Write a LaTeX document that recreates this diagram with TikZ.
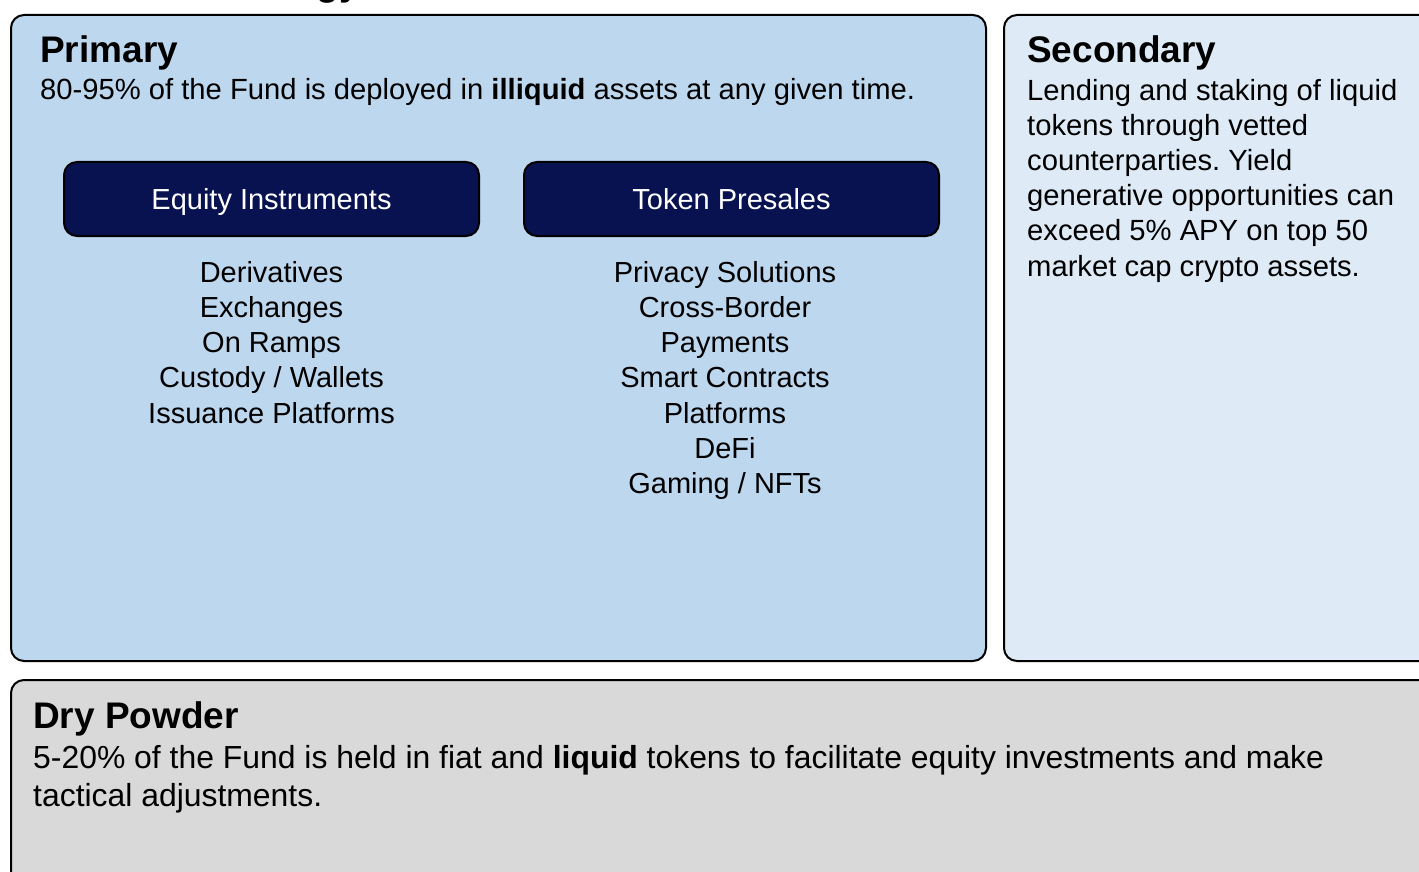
\documentclass[tikz,border=0pt]{standalone}
\usepackage{fontspec}
\setmainfont{Liberation Sans}
\usetikzlibrary{positioning}
\frenchspacing

\definecolor{primaryfill}{HTML}{BDD7EE}
\definecolor{secondaryfill}{HTML}{DEEBF7}
\definecolor{powderfill}{HTML}{D9D9D9}
\definecolor{navyfill}{HTML}{081250}

\tikzset{
  panel/.style={draw=black,line width=2pt,rounded corners=13pt,inner sep=0pt,anchor=north west},
  headtext/.style={font=\fontsize{37}{44}\selectfont\bfseries,inner sep=0pt,anchor=base west},
  bodytext/.style={font=\fontsize{29.2}{35.2}\selectfont,inner sep=0pt,anchor=base west,align=left},
  catbox/.style={draw=black,line width=2pt,fill=navyfill,rounded corners=13pt,text=white,
    minimum width=415pt,minimum height=74pt,text height=21pt,text depth=0pt,
    font=\fontsize{29}{35}\selectfont},
  listtext/.style={font=\fontsize{29}{35.2}\selectfont,inner sep=0pt,anchor=base,align=center}
}

\begin{document}
\begin{tikzpicture}[x=1pt,y=-1pt]
\useasboundingbox (0,0) rectangle (1419,872);
\clip (0,0) rectangle (1419,872);

% title, cut off at the top
\node[headtext,anchor=base east] (title) at (360,-4) {Strategy};

% panels
\node[panel,fill=primaryfill,minimum width=975pt,minimum height=646pt] (primary) at (10,14) {};
\node[panel,fill=secondaryfill,minimum width=460pt,minimum height=646pt] (secondary) at (1003,14) {};
\node[panel,fill=powderfill,minimum width=1460pt,minimum height=260pt] (powder) at (10,679) {};

% primary
\node[headtext] (primaryhead) at (40,63) {Primary};
\node[bodytext] (primarybody) at (40,100) {80-95\% of the Fund is deployed in \textbf{illiquid} assets at any given time.};
\node[catbox] (equity) at (271.5,199) {Equity Instruments};
\node[catbox] (token) at (731.5,199) {Token Presales};
% base anchor sits on the last line
\node[listtext] (equitylist) at (271.5,423) {Derivatives\\Exchanges\\On Ramps\\Custody / Wallets\\Issuance Platforms};
\node[listtext] (tokenlist) at (725,493.5) {Privacy Solutions\\Cross-Border\\Payments\\Smart Contracts\\Platforms\\DeFi\\Gaming / NFTs};

% secondary
\node[headtext] (secondaryhead) at (1027,63) {Secondary};
\node[bodytext] (secondarybody) at (1027,276) {Lending and staking of liquid\\tokens through vetted\\counterparties. Yield\\generative opportunities can\\exceed 5\% APY on top 50\\market cap crypto assets.};

% dry powder
\node[headtext] (powderhead) at (33,728) {Dry Powder};
\node[bodytext,font=\fontsize{31.9}{38}\selectfont] (powderbody) at (33,806) {5-20\% of the Fund is held in fiat and \textbf{liquid} tokens to facilitate equity investments and make\\tactical adjustments.};
\end{tikzpicture}
\end{document}
